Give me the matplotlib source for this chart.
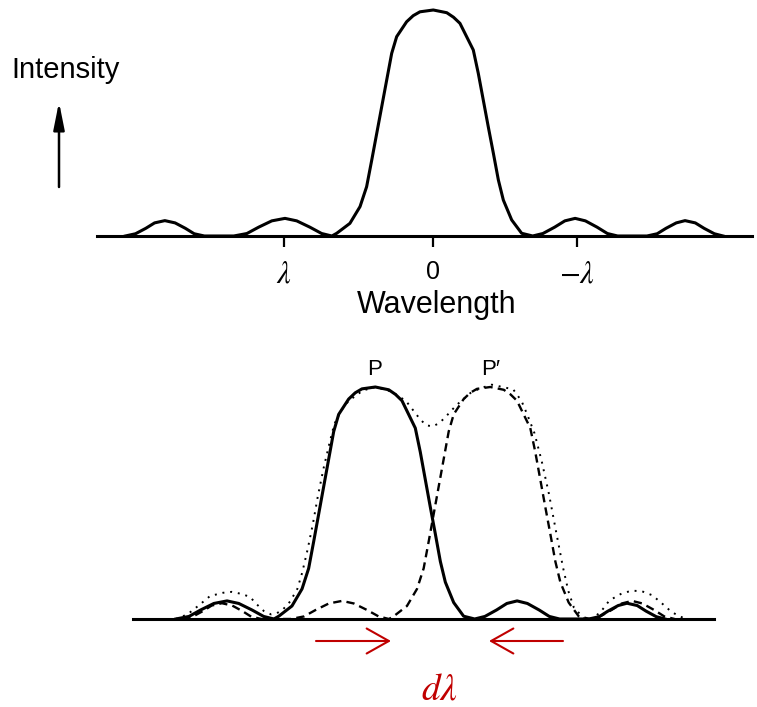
import numpy as np
import matplotlib
matplotlib.use("Agg")
import matplotlib.pyplot as plt

# single-slit style diffraction pattern (x in units of lambda)
pattern_x = [-2.10, -2.03, -1.96, -1.90, -1.83, -1.76, -1.69, -1.63, -1.56,
             -1.36, -1.27, -1.19, -1.10, -1.01, -0.93, -0.84, -0.76, -0.69,
             -0.657, -0.567, -0.498, -0.453, -0.418, -0.384, -0.350, -0.316, -0.282,
             -0.248, -0.180, -0.135, -0.089, 0.002, 0.094, 0.140, 0.184, 0.275,
             0.309, 0.343, 0.377, 0.412, 0.446, 0.480, 0.537, 0.605, 0.662,
             0.68, 0.75, 0.83, 0.90, 0.97, 1.04, 1.12, 1.19, 1.26,
             1.46, 1.53, 1.59, 1.66, 1.72, 1.79, 1.85, 1.92, 1.98]
pattern_y = [0.0, 0.010, 0.034, 0.058, 0.068, 0.058, 0.034, 0.010, 0.0,
             0.0, 0.011, 0.039, 0.067, 0.078, 0.067, 0.039, 0.011, 0.0,
             0.012, 0.056, 0.130, 0.218, 0.336, 0.454, 0.572, 0.690, 0.808,
             0.882, 0.948, 0.975, 0.992, 1.0, 0.988, 0.968, 0.941, 0.823,
             0.720, 0.602, 0.484, 0.366, 0.248, 0.159, 0.071, 0.012, 0.003,
             0.0, 0.011, 0.039, 0.067, 0.078, 0.067, 0.039, 0.011, 0.0,
             0.0, 0.010, 0.034, 0.058, 0.068, 0.058, 0.034, 0.010, 0.0]

top_xlim = (-2.293, 2.177)
tick_pos = [-1.02, 0.0, 0.98]
tick_labels = [r'$\lambda$', '0', r'$-\lambda$']

# bottom panel: two patterns P and P' and their sum (dotted)
p_center = 0.0
pprime_center = 0.785
bottom_xlim = (-1.652, 2.314)
bottom_shown = (-1.42, 2.16)

sum_x = [-1.36, -1.28, -1.20, -1.126, -1.038, -0.978, -0.91, -0.853, -0.81, -0.76, -0.71, -0.67,
         -0.63, -0.58, -0.53, -0.497, -0.46, -0.424, -0.39, -0.351, -0.31, -0.278, -0.23, -0.18,
         -0.083, 0.003, 0.113, 0.211, 0.26, 0.309, 0.35, 0.394, 0.44, 0.48, 0.553, 0.651,
         0.72, 0.797, 0.87, 0.943, 1.00, 1.04, 1.089, 1.138, 1.187, 1.235, 1.284, 1.32,
         1.357, 1.43,
         1.48, 1.54, 1.60, 1.684, 1.752, 1.82, 1.89, 1.945, 2.025, 2.07, 2.12]
sum_y = [0.0, 0.02, 0.06, 0.099, 0.113, 0.117, 0.108, 0.095, 0.065, 0.035, 0.02, 0.025,
         0.04, 0.075, 0.13, 0.20, 0.30, 0.41, 0.53, 0.65, 0.76, 0.84, 0.90, 0.94,
         0.985, 1.0, 0.98, 0.94, 0.90, 0.86, 0.835, 0.83, 0.845, 0.87, 0.92, 0.974,
         0.995, 1.01, 1.0, 0.99, 0.94, 0.88, 0.80, 0.68, 0.54, 0.38, 0.22, 0.12,
         0.05, 0.0,
         0.0, 0.03, 0.08, 0.11, 0.122, 0.12, 0.103, 0.075, 0.03, 0.015, 0.0]

W, H = 757, 707
red = '#c00000'

plt.rcParams['font.family'] = ['Liberation Sans', 'DejaVu Sans']
plt.rcParams['mathtext.fontset'] = 'stix'

def fx(px):
    return px / W

def fy(py):
    return 1 - py / H

fig = plt.figure(figsize=(W / 100, H / 100), dpi=100)

# ---- top panel ----
ax1 = fig.add_axes([fx(97), fy(236), (752 - 97) / W, (236 - 10) / H])
ax1.set_xlim(*top_xlim)
ax1.set_ylim(0, 1.0)
ax1.axhline(0, color='black', lw=2.2, clip_on=False)
ax1.plot(pattern_x, pattern_y, color='black', lw=2.2, clip_on=False, solid_joinstyle='round')
for s in ax1.spines.values():
    s.set_visible(False)
ax1.set_yticks([])
ax1.set_xticks(tick_pos)
ax1.set_xticklabels(tick_labels)
ax1.tick_params(axis='x', direction='out', length=8, width=1.6, pad=9, labelsize=18)
# the lambda labels look a bit bigger than the 0
for lab in ax1.get_xticklabels():
    if 'lambda' in lab.get_text():
        lab.set_fontsize(22)

fig.text(fx(11), fy(78), 'Intensity', fontsize=21, ha='left', va='baseline')
fig.text(fx(437), fy(313), 'Wavelength', fontsize=22, ha='center', va='baseline')
ax1.annotate('', xy=(fx(59), fy(102)), xytext=(fx(59), fy(187)),
             xycoords='figure fraction', textcoords='figure fraction',
             arrowprops=dict(arrowstyle='-|>,head_length=1.1,head_width=0.22',
                             mutation_scale=15, lw=1.8, color='black',
                             shrinkA=0, shrinkB=0))

# ---- bottom panel ----
ax2 = fig.add_axes([fx(133), fy(619), (714 - 133) / W, (619 - 387) / H])
ax2.set_xlim(*bottom_xlim)
ax2.set_ylim(0, 1.0)
ax2.axis('off')
ax2.axhline(0, color='black', lw=2.2, clip_on=False)

px = np.array(pattern_x)
py = np.array(pattern_y)
for c, style, lw in [(pprime_center, (0, (3.5, 2.2)), 1.7), (p_center, '-', 2.2)]:
    xs = px + c
    keep = (xs >= bottom_shown[0]) & (xs <= bottom_shown[1])
    ax2.plot(xs[keep], py[keep], color='black', lw=lw, linestyle=style, clip_on=False)
ax2.plot(sum_x, sum_y, color='black', lw=1.4, linestyle=(0, (1, 3)), clip_on=False)

fig.text(fx(375), fy(375), 'P', fontsize=16, ha='center', va='baseline')
fig.text(fx(481), fy(375), 'P\u2032', fontsize=16, ha='left', va='baseline')

# red d-lambda arrows
arrow_kw = dict(arrowstyle='->,head_length=0.8,head_width=0.45', mutation_scale=20,
                lw=1.5, color=red, shrinkA=0, shrinkB=0)
fig.add_artist(matplotlib.patches.FancyArrowPatch((fx(316), fy(641)), (fx(391), fy(641)),
                                                  transform=fig.transFigure, **arrow_kw))
fig.add_artist(matplotlib.patches.FancyArrowPatch((fx(563), fy(641)), (fx(489), fy(641)),
                                                  transform=fig.transFigure, **arrow_kw))
fig.text(fx(439), fy(699), r'$d\lambda$', fontsize=27, color=red, ha='center', va='baseline')

fig.savefig('out.png', dpi=100)
